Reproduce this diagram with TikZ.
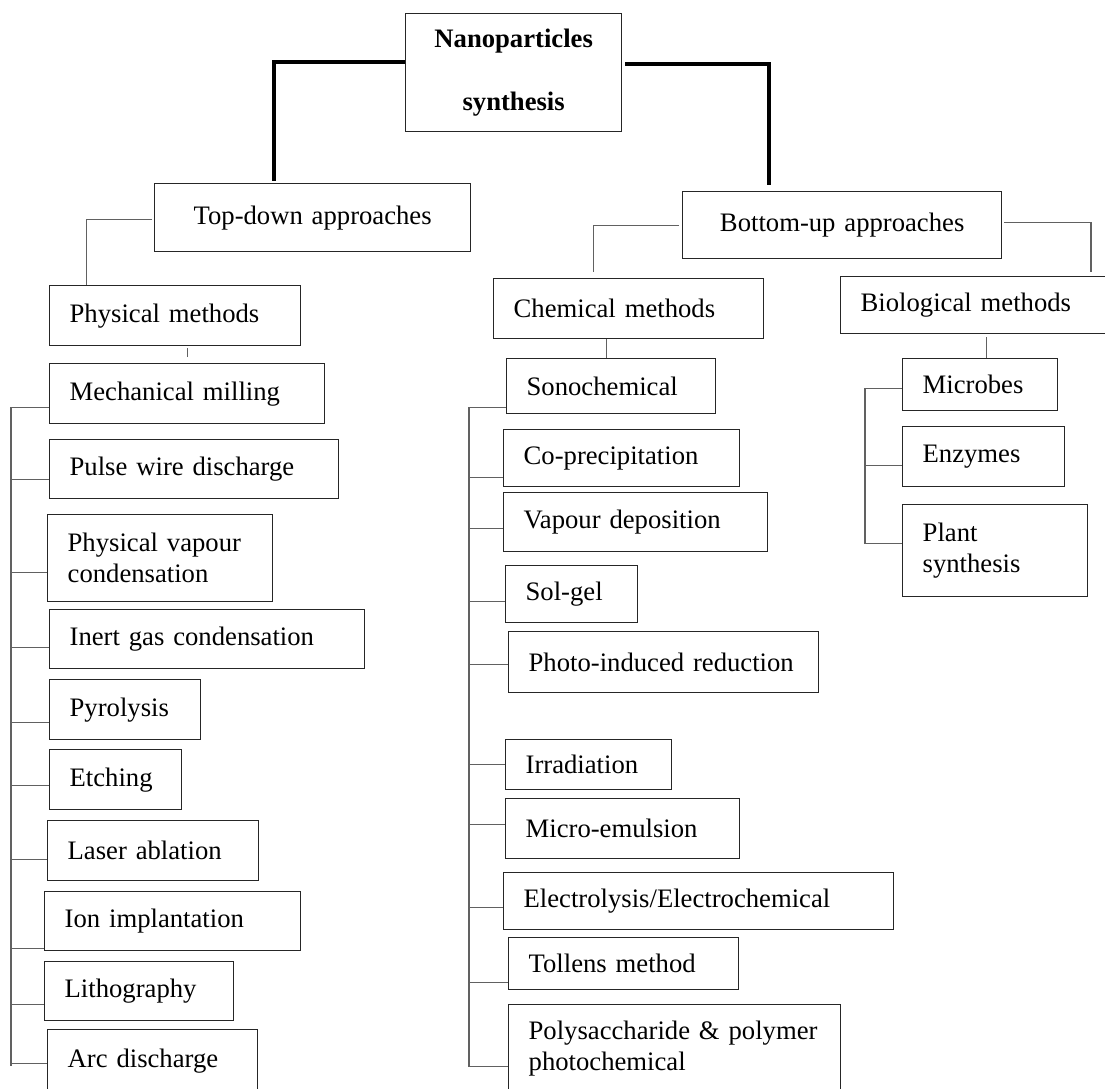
\documentclass[tikz,border=0pt]{standalone}
\usepackage{fontspec}
\setmainfont{Liberation Serif}
\usetikzlibrary{calc}

\begin{document}
\begin{tikzpicture}[x=0.45pt,y=-0.45pt,
  box/.style={draw=black!85,line width=0.6pt,anchor=north west,inner xsep=9pt,inner ysep=0pt,align=left,font=\fontsize{12}{13.8}\selectfont},
  wh/.style 2 args={minimum width=#1*0.45pt,minimum height=#2*0.45pt,text width=(#1-40)*0.45pt},
  link/.style={draw=black!62,line width=0.5pt},
  heavy/.style={draw=black,line width=1.7pt}]

\useasboundingbox (0,0) rectangle (1105,1088);
\clip (0,0) rectangle (1105,1088);

\node (top)		at (405,13)	[box,wh={216}{118},align=center,font=\fontsize{12}{28.3}\selectfont\bfseries] {Nanoparticles\\synthesis};

\node (topdown)		at (154,183)	[box,wh={316}{68},align=center] {Top-down approaches};
\node (bottomup)	at (682,191)	[box,wh={319}{67},align=center] {Bottom-up approaches};

\node (physical)	at (49,285)	[box,wh={251}{60}] {Physical methods};
\node (chemical)	at (493,278)	[box,wh={270}{60}] {Chemical methods};
\node (biological)	at (840,276)	[box,wh={290}{57}] {Biological methods};

% physical methods
\node (mech)		at (49,363)	[box,wh={275}{60}] {Mechanical milling};
\node (pulse)		at (49,439)	[box,wh={289}{59}] {Pulse wire discharge};
\node (pvc)		at (47,514)	[box,wh={225}{87}] {Physical vapour\\condensation};
\node (inert)		at (49,609)	[box,wh={315}{59}] {Inert gas condensation};
\node (pyro)		at (49,679)	[box,wh={151}{60}] {Pyrolysis};
\node (etch)		at (49,749)	[box,wh={132}{60}] {Etching};
\node (laser)		at (47,820)	[box,wh={211}{60}] {Laser ablation};
\node (ion)		at (44,891)	[box,wh={256}{59}] {Ion implantation};
\node (litho)		at (44,961)	[box,wh={189}{59}] {Lithography};
\node (arc)		at (47,1029)	[box,wh={210}{62}] {Arc discharge};

% chemical methods
\node (sono)		at (506,358)	[box,wh={209}{55}] {Sonochemical};
\node (coprec)		at (503,429)	[box,wh={236}{57}] {Co-precipitation};
\node (vapdep)		at (503,492)	[box,wh={264}{59}] {Vapour deposition};
\node (solgel)		at (505,565)	[box,wh={132}{57}] {Sol-gel};
\node (photo)		at (508,631)	[box,wh={310}{61}] {Photo-induced reduction};
\node (irrad)		at (505,739)	[box,wh={166}{50}] {Irradiation};
\node (micro)		at (505,798)	[box,wh={234}{60}] {Micro-emulsion};
\node (electro)		at (503,872)	[box,wh={390}{57}] {Electrolysis/Electrochemical};
\node (tollens)		at (508,937)	[box,wh={230}{52}] {Tollens method};
\node (poly)		at (508,1004)	[box,wh={332}{88}] {Polysaccharide \& polymer\\photochemical};

% biological methods
\node (microbes)	at (902,358)	[box,wh={155}{52}] {Microbes};
\node (enzymes)		at (902,426)	[box,wh={162}{60}] {Enzymes};
\node (plant)		at (902,504)	[box,wh={185}{92}] {Plant\\synthesis};

\draw [heavy] ($(top.west)+(0,-11)$) -| ($(topdown.north)+(-39,-2)$);
\draw [heavy] ($(top.east)+(3,-9)$) -| ($(bottomup.north)+(-73.5,-6)$);

\draw [link] ($(topdown.west)+(-2,2)$) -| ($(physical.north)+(-88.5,0)$);
\draw [link] ($(bottomup.west)+(-3,0.5)$) -| ($(chemical.north)+(-35,-6)$);
\draw [link] ($(bottomup.east)+(2,-2.5)$) -| ($(biological.north west)+(251,-4)$);

\coordinate (ptick) at ($(mech.north)+(0,-6)$);
\draw [link] (ptick) -- ($(ptick)+(0,-9)$);
\coordinate (ctick) at ($(sono.north)+(-4.5,0)$);
\draw [link] (ctick) -- (ctick |- chemical.south);
\coordinate (btick) at ($(microbes.north)+(6.5,0)$);
\draw [link] (btick) -- ($(btick)+(0,-21)$);

\coordinate (ptrunk) at (11,407);
\coordinate (pend)   at (11,1066);
\draw [link] (ptrunk) -- (pend);
\draw [link] (ptrunk) |- ($(mech.west)+(0,14)$);
\draw [link] (ptrunk) |- ($(pulse.west)+(0,10.5)$);
\draw [link] (ptrunk) |- ($(pvc.west)+(0,14.5)$);
\draw [link] (ptrunk) |- ($(inert.west)+(0,8.5)$);
\draw [link] (ptrunk) |- ($(pyro.west)+(0,13)$);
\draw [link] (ptrunk) |- ($(etch.west)+(0,6)$);
\draw [link] (ptrunk) |- ($(laser.west)+(0,9)$);
\draw [link] (ptrunk) |- ($(ion.west)+(0,27.5)$);
\draw [link] (ptrunk) |- ($(litho.west)+(0,13.5)$);
\draw [link] (ptrunk) |- ($(arc.west)+(0,3)$);

\coordinate (ctrunk) at (469,407);
\coordinate (cend)   at (469,1066);
\draw [link] (ctrunk) -- (cend);
\draw [link] (ctrunk) |- ($(sono.west)+(0,21.5)$);
\draw [link] (ctrunk) |- ($(coprec.west)+(0,19.5)$);
\draw [link] (ctrunk) |- ($(vapdep.west)+(0,6.5)$);
\draw [link] (ctrunk) |- ($(solgel.west)+(0,7.5)$);
\draw [link] (ctrunk) |- ($(photo.west)+(0,2.5)$);
\draw [link] (ctrunk) |- (irrad.west);
\draw [link] (ctrunk) |- ($(micro.west)+(0,-4)$);
\draw [link] (ctrunk) |- ($(electro.west)+(0,6.5)$);
\draw [link] (ctrunk) |- ($(tollens.west)+(0,19)$);
\draw [link] (ctrunk) |- ($(poly.west)+(0,18)$);

\coordinate (btrunk) at (865,388);
\draw [link] (btrunk) |- ($(microbes.west)+(0,4)$);
\draw [link] (btrunk) |- ($(enzymes.west)+(0,9)$);
\draw [link] (btrunk) |- ($(plant.west)+(0,-7)$);

\end{tikzpicture}
\end{document}
